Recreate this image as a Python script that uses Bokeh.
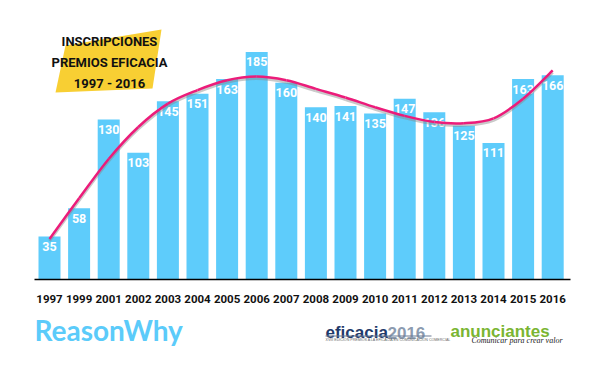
from bokeh.plotting import figure
from bokeh.models import Range1d, ColumnDataSource
from bokeh.core.properties import value
from bokeh.embed import file_html
from bokeh.resources import INLINE

# ---- data ----
years = ["1997", "1999", "2001", "2002", "2003", "2004", "2005", "2006", "2007",
         "2008", "2009", "2010", "2011", "2012", "2013", "2014", "2015", "2016"]
entries = [35, 58, 130, 103, 145, 151, 163, 185, 160, 140, 141, 135, 147, 136, 125, 111, 163, 166]
trend = [33, 66, 98, 124, 143, 154, 162, 165, 162, 155, 148, 140, 133, 128, 127, 131, 147, 170]
title_lines = ["INSCRIPCIONES", "PREMIOS EFICACIA", "1997 - 2016"]

# ---- layout helpers (page pixel -> data) ----
W, H = 584, 352
PITCH = 29.6          # px per category
SCALE = 1.23          # px per unit
X0 = 49               # canvas x of first bar centre
BASE = 279            # canvas y of baseline (from top)

def px(X):
    return (X - X0) / PITCH

def py(Y):
    return (BASE - Y) / SCALE

xr = Range1d(-X0 / PITCH, (W - X0) / PITCH)
y0, y1 = -(H - BASE) / SCALE, BASE / SCALE
yr = Range1d(y0, y1)

BOLDF = value("Roboto")

p = figure(width=W, height=H, x_range=xr, y_range=yr, output_backend="svg",
           toolbar_location=None, x_axis_type=None, y_axis_type=None,
           min_border=0, outline_line_color=None, background_fill_color="white")
p.grid.visible = False
d = 2 / SCALE
p.extra_y_ranges = {"shadow": Range1d(y0 + d, y1 + d)}

idx = list(range(len(years)))
src = ColumnDataSource(dict(x=idx, year=years, v=entries, t=trend,
                            lbl=[str(v) for v in entries]))

# bars
p.vbar(x="x", top="v", bottom=0, width=22 / PITCH, source=src,
       fill_color="#5ECCFB", line_color=None)

# value labels
p.text(x="x", y="v", text="lbl", source=src, y_offset=10,
       text_align="center", text_baseline="middle", text_color="white",
       text_font=BOLDF, text_font_style="bold", text_font_size="12.5px")

# baseline
p.segment(x0=[px(34)], y0=[0], x1=[px(570)], y1=[0], line_color="black", line_width=1.5)

# year labels
p.text(x="x", y=0, text="year", source=src, y_offset=19,
       text_align="center", text_baseline="middle", text_color="#111111",
       text_font=BOLDF, text_font_style="bold", text_font_size="11.5px")

# smooth trend curve (Catmull-Rom through the read points, drawn as Beziers)
n = len(trend)
def ctrl(i):
    return max(0, min(n - 1, i))
bx0, by0, bx1, by1, c0x, c0y, c1x, c1y = [], [], [], [], [], [], [], []
for i in range(n - 1):
    a, b, c, e = ctrl(i - 1), i, i + 1, ctrl(i + 2)
    bx0.append(idx[b]); by0.append(trend[b])
    bx1.append(idx[c]); by1.append(trend[c])
    c0x.append(idx[b] + (idx[c] - idx[a]) / 6); c0y.append(trend[b] + (trend[c] - trend[a]) / 6)
    c1x.append(idx[c] - (idx[e] - idx[b]) / 6); c1y.append(trend[c] - (trend[e] - trend[b]) / 6)
bsrc = ColumnDataSource(dict(x0=bx0, y0=by0, x1=bx1, y1=by1, cx0=c0x, cy0=c0y, cx1=c1x, cy1=c1y))
p.bezier(x0="x0", y0="y0", x1="x1", y1="y1", cx0="cx0", cy0="cy0", cx1="cx1", cy1="cy1",
         source=bsrc, y_range_name="shadow", line_color="#888888", line_alpha=0.45, line_width=3)
p.bezier(x0="x0", y0="y0", x1="x1", y1="y1", cx0="cx0", cy0="cy0", cx1="cx1", cy1="cy1",
         source=bsrc, line_color="#EC1C7A", line_width=2.5)

# title box
p.patch([px(65), px(161), px(152), px(55)], [py(45), py(29), py(88), py(92)],
        fill_color="#F8CF33", line_color=None)
for line, Y in zip(title_lines, [41, 62, 82.5]):
    p.text(x=[px(109)], y=[py(Y)], text=[line], text_align="center",
           text_baseline="middle", text_color="#111111", text_font=BOLDF,
           text_font_style="bold", text_font_size="13px")

# logos
p.text(x=[px(34)], y=[py(329)], text=["ReasonWhy"], text_align="left",
       text_baseline="middle", text_color="#5BCBFA", text_font=value("Lato"),
       text_font_style="bold", text_font_size="28px")
p.text(x=[px(325)], y=[py(332)], text=["eficacia"], text_align="left",
       text_baseline="alphabetic", text_color="#1F3A6B", text_font=value("Liberation Sans"),
       text_font_style="bold", text_font_size="17px")
p.text(x=[px(387)], y=[py(332)], text=["2016"], text_align="left",
       text_baseline="alphabetic", text_color="#8C9BB0", text_font=value("Liberation Sans"),
       text_font_style="bold", text_font_size="17px")
p.segment(x0=[px(325)], y0=[py(335.5)], x1=[px(431)], y1=[py(335.5)],
          line_color="#6B7A93", line_width=1.2)
p.text(x=[px(325)], y=[py(339.5)], text=["XVIII EDICIÓN  PREMIOS A LA EFICACIA EN COMUNICACIÓN COMERCIAL"],
       text_align="left", text_baseline="middle", text_color="#666666",
       text_font=value("Liberation Sans"), text_font_size="3.6px")
p.text(x=[px(450)], y=[py(331)], text=["anunciantes"], text_align="left",
       text_baseline="alphabetic", text_color="#7AB532", text_font=value("Liberation Sans"),
       text_font_style="bold", text_font_size="17px")
p.text(x=[px(562)], y=[py(340)], text=["Comunicar para crear valor"], text_align="right",
       text_baseline="middle", text_color="#222222", text_font=value("Liberation Serif"),
       text_font_style="italic", text_font_size="8px")

open("out.html", "w").write(file_html(p, INLINE))
